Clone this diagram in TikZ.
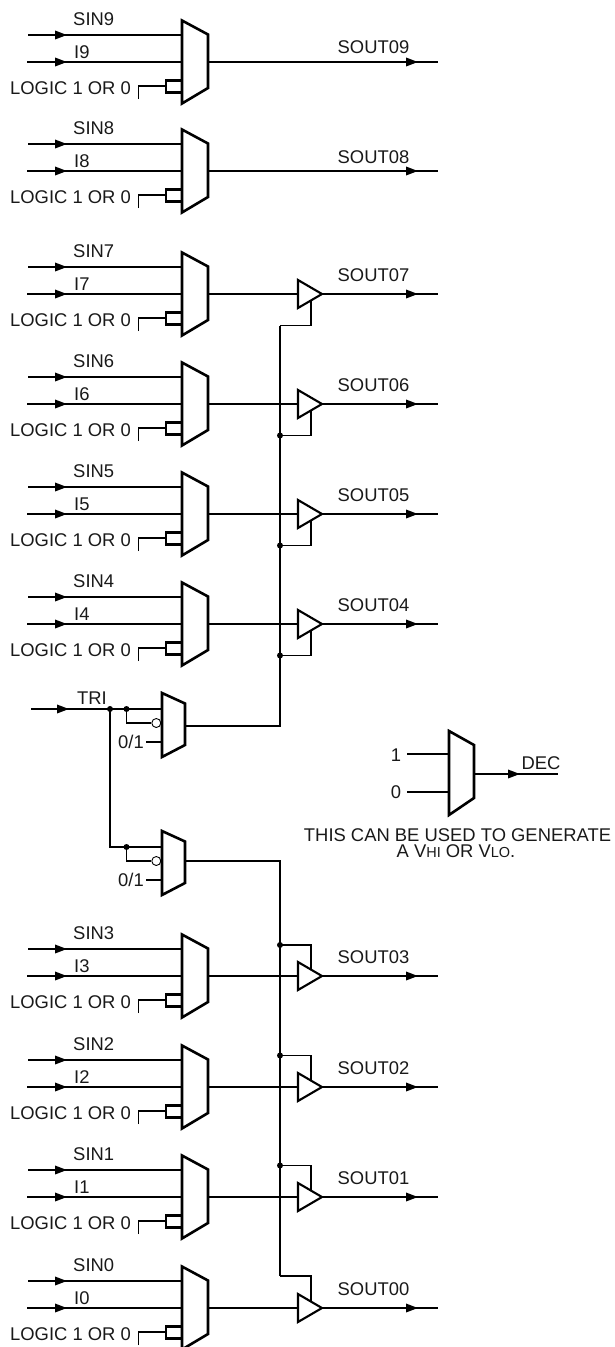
\documentclass[tikz,border=0pt]{standalone}
\usepackage{fontspec}
\setmainfont{Liberation Sans}
\usetikzlibrary{arrows.meta}
\tikzset{
  wire/.style={line width=1.8pt,line cap=butt},
  after/.style={wire,shorten <=-8pt},
  flow/.style={wire,-{Triangle[length=12pt,width=8.5pt]}},
  body/.style={line width=2.6pt,line join=miter,fill=white,draw=black},
  junction/.style={circle,fill=black,inner sep=0pt,minimum size=6pt},
  bubble/.style={circle,draw=black,fill=white,line width=0.9pt,inner sep=0pt,minimum size=9pt},
  lab/.style={inner sep=0pt,font=\fontsize{18.4}{18.4}\selectfont,text=black!90},
}
\newcommand\muxbody[1]{%
  \coordinate (#1i1) at (182,-27);
  \coordinate (#1i2) at (182,0);
  \coordinate (#1o) at (208,0);
  \draw[body] (182,-41.5) -- (208,-27.5) -- (208,26) -- (182,41.5) -- cycle;
}
\newcommand\muxrow[3]{%
  \begin{scope}[shift={(0,#2)}]
    \coordinate (s#1) at (28,-27);
    \coordinate (sm#1) at (67,-27);
    \coordinate (t#1) at (27,0);
    \coordinate (tm#1) at (67,0);
    \coordinate (b#1) at (138.5,37);
    \coordinate (c#1) at (138.5,24);
    \coordinate (d#1) at (166,24);
    \muxbody{m#1}
    \draw[flow] (s#1) -- (sm#1);
    \draw[after] (sm#1) -- (m#1i1);
    \draw[flow] (t#1) -- (tm#1);
    \draw[after] (tm#1) -- (m#1i2);
    \draw[wire] (b#1) -- (c#1) -- (d#1);
    \draw[line width=2.6pt] (181,18.5) -- (166,18.5) -- (166,30.5) -- (181,30.5);
    \node[lab] (sl#1) at (93.7,-43.3) {SIN#3};
    \node[lab,anchor=west] (il#1) at (74,-9.5) {I#3};
    \node[lab,anchor=west] (ll#1) at (10,26.5) {LOGIC 1 OR 0};
  \end{scope}%
}
\newcommand\sout[4]{%
  \begin{scope}[shift={(0,#2)}]
    \coordinate (e#1) at (438,0);
    \coordinate (em#1) at (418,0);
    \draw[flow] (m#1o) -- (em#1);
    \draw[after] (em#1) -- (e#1);
    \node[lab] (ol#1) at (373.5,#4) {#3};
  \end{scope}%
}
\newcommand\bufout[4]{%
  \begin{scope}[shift={(0,#2)}]
    \coordinate (bin#1) at (298,0);
    \coordinate (bo#1) at (322,0);
    \coordinate (en#1) at (311,#4);
    \coordinate (gt#1) at (311,0);
    \coordinate (em#1) at (418,0);
    \coordinate (e#1) at (438,0);
    \coordinate (bus#1) at (280,#4);
    \draw[wire] (m#1o) -- (bin#1);
    \draw[wire] (bus#1) -- (en#1) -- (gt#1);
    \draw[line width=2.1pt,fill=white,line join=miter] (298,-14) -- (322,0) -- (298,14) -- cycle;
    \draw[flow] (bo#1) -- (em#1);
    \draw[after] (em#1) -- (e#1);
    \node[lab] (ol#1) at (373.5,-18.5) {#3};
  \end{scope}%
}
\newcommand\trimux[3]{%
  \begin{scope}[shift={(0,#2)}]
    \coordinate (ti#1) at (162,0);
    \coordinate (tb#1) at (126.5,0);
    \coordinate (tc#1) at (126.5,14);
    \coordinate (to#1) at (185,#3);
    \coordinate (tz#1) at (146,33);
    \coordinate (tzz#1) at (162,33);
    \draw[wire] (tb#1) -- (tc#1) -- (151,14);
    \draw[wire] (tz#1) -- (tzz#1);
    \draw[body] (162,-16) -- (185,-5.5) -- (185,36) -- (162,48) -- cycle;
    \node[bubble] (tq#1) at (156.3,14) {};
    \node[junction] (tj#1) at (tb#1) {};
    \node[lab] (tl#1) at (131,33) {0/1};
  \end{scope}%
}
\begin{document}
\begin{tikzpicture}[x=1pt,y=-1pt]
\useasboundingbox (0,0) rectangle (614,1347);
\muxrow{9}{62}{9}
\muxrow{8}{171}{8}
\muxrow{7}{294}{7}
\muxrow{6}{404}{6}
\muxrow{5}{514}{5}
\muxrow{4}{624}{4}
\muxrow{3}{976}{3}
\muxrow{2}{1087}{2}
\muxrow{1}{1197}{1}
\muxrow{0}{1308}{0}
\sout{9}{62}{SOUT09}{-14.5}
\sout{8}{171}{SOUT08}{-14}
\coordinate (tin) at (31,709);
\coordinate (tinm) at (69,709);
\coordinate (tdrop) at (110,709);
\coordinate (tcorner) at (110,847);
\trimux{A}{709}{17}
\trimux{B}{847}{14}
\draw[flow] (tin) -- (tinm);
\draw[after] (tinm) -- (tiA);
\draw[wire] (tdrop) -- (tcorner) -- (tiB);
\node[junction] (tdot) at (tdrop) {};
\node[lab] (trilab) at (92,698.5) {TRI};
\coordinate (upc) at (280,726);
\bufout{7}{294}{SOUT07}{31.5}
\bufout{6}{404}{SOUT06}{31.5}
\bufout{5}{514}{SOUT05}{31.5}
\bufout{4}{624}{SOUT04}{31.5}
\draw[wire] (toA) -- (upc) -- (bus7);
\node[junction] (j6) at (bus6) {};
\node[junction] (j5) at (bus5) {};
\node[junction] (j4) at (bus4) {};
\coordinate (loc) at (280,861);
\bufout{3}{976}{SOUT03}{-31}
\bufout{2}{1087}{SOUT02}{-31.5}
\bufout{1}{1197}{SOUT01}{-31.5}
\bufout{0}{1308}{SOUT00}{-32}
\draw[wire] (toB) -- (loc) -- (bus0);
\node[junction] (j3) at (bus3) {};
\node[junction] (j2) at (bus2) {};
\node[junction] (j1) at (bus1) {};
\coordinate (d1) at (407,754);
\coordinate (d0) at (407,792);
\coordinate (di1) at (449,754);
\coordinate (di0) at (449,792);
\coordinate (dout) at (474,774);
\coordinate (dm) at (520,774);
\coordinate (dend) at (558,774);
\draw[wire] (d1) -- (di1);
\draw[wire] (d0) -- (di0);
\draw[flow] (dout) -- (dm);
\draw[after] (dm) -- (dend);
\draw[body] (449,731) -- (474,745) -- (474,798) -- (449,815) -- cycle;
\node[lab] (one) at (396,755) {1};
\node[lab] (zero) at (396,792) {0};
\node[lab] (declab) at (541,763) {DEC};
\node[lab] (note1) at (457.5,835) {THIS CAN BE USED TO GENERATE};
\node[lab] (note2) at (456,851) {A V{\fontsize{14.5}{14.5}\selectfont HI} OR V{\fontsize{14.5}{14.5}\selectfont LO}.};
\end{tikzpicture}
\end{document}
